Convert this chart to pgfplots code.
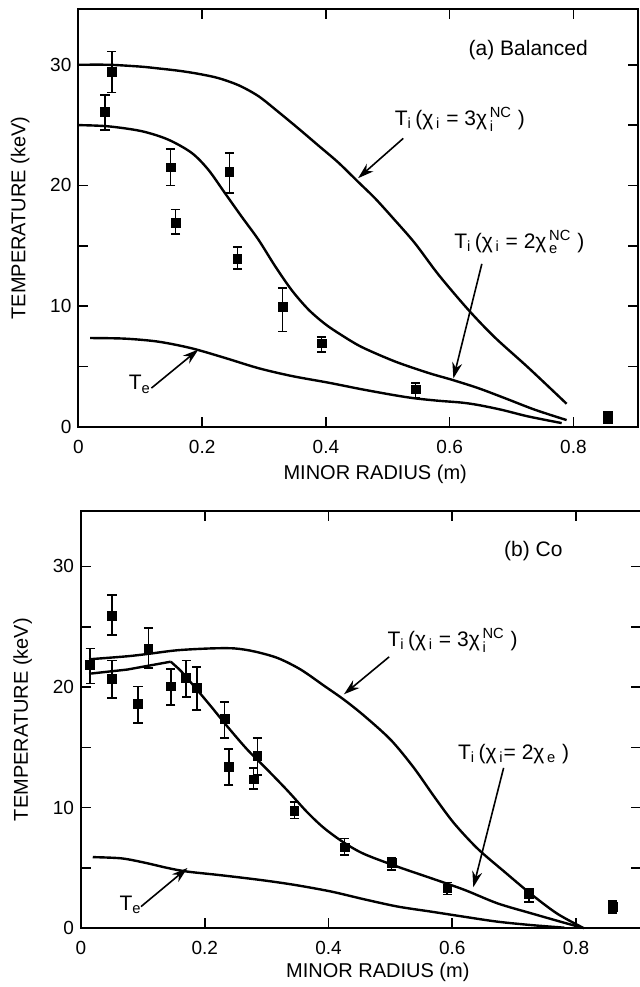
\documentclass[border=0pt]{standalone}
\usepackage{fontspec}
\setmainfont{Liberation Sans}
\usepackage{amsmath}
\usepackage{pgfplots}
\usepackage{pgfplotstable}
\pgfplotsset{compat=1.18}
\usetikzlibrary{arrows.meta}

\newcommand{\lab}{\fontsize{10}{12}\selectfont}
\newcommand{\ann}{\fontsize{10.5}{12}\selectfont}

% measured ion temperatures: x, y, error plus, error minus
\pgfplotstableread{
x     y     ep    em
0.043 26.1  1.4   1.5
0.054 29.4  1.7   1.7
0.149 21.5  1.5   1.5
0.157 16.9  1.1   0.9
0.244 21.1  1.6   1.75
0.257 13.9  1.0   0.85
0.330 9.9   1.6   2.0
0.393 6.9   0.55  0.7
0.545 3.1   0.55  0.75
0.856 0.8   0.45  0.5
}\balanced

\pgfplotstableread{
x     y     ep    em
0.015 21.85 1.35  1.55
0.050 25.9  1.7   1.6
0.050 20.7  1.5   1.6
0.092 18.6  1.45  1.6
0.109 23.15 1.75  1.55
0.145 20.05 1.45  1.55
0.170 20.75 1.45  1.55
0.187 19.9  1.75  1.8
0.232 17.35 1.4   1.55
0.239 13.35 1.5   1.5
0.279 12.35 0.95  0.8
0.285 14.3  1.45  1.6
0.345 9.75  0.7   0.65
0.426 6.7   0.75  0.6
0.502 5.4   0.4   0.55
0.592 3.3   0.5   0.5
0.724 2.85  0.45  0.65
0.859 1.8   0.45  0.55
}\co

\tikzset{pointer/.style={line width=0.8pt, -{Stealth[length=8pt, width=5pt]}}}

\pgfplotsset{
  panel/.style={
    scale only axis, width=280pt, height=208.7pt,
    xmin=0, xmax=0.905, ymin=0, ymax=34.6,
    axis line style={line width=0.9pt},
    xtick={0,0.2,0.4,0.6,0.8},
    xticklabels={0,0.2,0.4,0.6,0.8},
    ytick={0,5,...,30}, yticklabels={0,,10,,20,,30},
    major tick length=5pt, tick style={line width=0.8pt, black},
    tick label style={font=\fontsize{9.5}{11}\selectfont},
    xticklabel style={yshift=-3pt},
    /pgf/number format/assume math mode=true,
    xlabel={MINOR RADIUS (m)}, ylabel={TEMPERATURE (keV)},
    label style={font=\lab},
    every axis y label/.style={at={(axis description cs:-0.104,0.5)}, rotate=90, anchor=center},
    every axis x label/.style={at={(axis description cs:0.53,0)}, yshift=-24pt, anchor=center},
    clip=false,
  },
  model/.style={black, line width=1.2pt, no marks},
  meas/.style={black, only marks, mark=square*, mark size=2.2pt,
    error bars/y dir=both, error bars/y explicit,
    error bars/error bar style={line width=0.85pt, black},
    error bars/error mark options={rotate=90, mark size=2.3pt, line width=0.85pt, black}},
}

\begin{document}
\begin{tikzpicture}
\path[use as bounding box] (0,0) rectangle (319.5pt,493.5pt);

% (a) Balanced
\begin{axis}[panel, at={(39.2pt,280.15pt)}, anchor=south west]
\addplot[model, smooth] coordinates {
(0,30.0) (0.05,30.0) (0.10,29.85) (0.129,29.7) (0.163,29.5) (0.194,29.25)
(0.226,28.9) (0.259,28.3) (0.291,27.4) (0.323,26.1) (0.356,24.7) (0.388,23.3)
(0.42,21.9) (0.452,20.3) (0.48,18.9) (0.51,17.2) (0.544,15.2) (0.582,12.6)
(0.63,9.7) (0.673,7.4) (0.727,4.9) (0.789,1.9)};
\addplot[model, smooth] coordinates {
(0,25.0) (0.048,24.9) (0.102,24.5) (0.145,23.8) (0.183,22.7) (0.21,21.3)
(0.237,19.35) (0.264,17.4) (0.291,15.5) (0.318,13.3) (0.345,11.3) (0.372,9.7)
(0.399,8.5) (0.425,7.6) (0.458,6.6) (0.512,5.4) (0.566,4.45) (0.603,3.9)
(0.646,3.2) (0.69,2.35) (0.738,1.4) (0.789,0.55)};
\addplot[model, smooth] coordinates {
(0.019,7.35) (0.075,7.3) (0.129,7.05) (0.183,6.5) (0.237,5.7) (0.291,4.85)
(0.345,4.2) (0.404,3.65) (0.458,3.1) (0.512,2.6) (0.544,2.35) (0.582,2.15)
(0.619,2.0) (0.646,1.8) (0.684,1.4) (0.727,0.85) (0.781,0.3)};
\addplot[meas] table[x=x, y=y, y error plus=ep, y error minus=em] {\balanced};

\node[font=\ann] at (axis cs:0.727,31.2) {(a) Balanced};
\node[font=\ann, anchor=base west] at (axis cs:0.5,25.0)
  {T$_{\text{i}}$\,(χ$_{\,\text{i}}$ = 3χ$_{\,\text{i}}^{\,\text{NC}}$ )};
\draw[pointer] (axis cs:0.525,23.9) -- (axis cs:0.452,20.6);
\node[font=\ann, anchor=base west] at (axis cs:0.596,14.8)
  {T$_{\text{i}}$\,(χ$_{\,\text{i}}$ = 2χ$_{\,\text{e}}^{\,\text{NC}}$ )};
\draw[pointer] (axis cs:0.652,13.5) -- (axis cs:0.606,4.0);
\node[font=\ann, anchor=base west] at (axis cs:0.07,3.05) {T$_{\text{e}}$};
\draw[pointer] (axis cs:0.118,3.2) -- (axis cs:0.194,6.4);
\end{axis}

% (b) Co
\begin{axis}[panel, at={(40.5pt,29.35pt)}, anchor=south west,
  every axis x label/.append style={yshift=2pt}]
\addplot[model, smooth] coordinates {
(0.013,22.3) (0.075,22.55) (0.109,22.75) (0.156,23.05) (0.21,23.2) (0.248,23.2)
(0.28,22.95) (0.318,22.4) (0.355,21.45) (0.393,20.1) (0.425,18.95) (0.458,17.6)
(0.501,15.6) (0.538,13.3) (0.571,10.9) (0.603,8.7) (0.641,6.6) (0.684,4.7)
(0.727,2.85) (0.77,1.2) (0.813,0)};
% 2 chi_e: straight rise to a corner at r = 0.145, then a smooth fall
\addplot[model] coordinates {
(0.013,21.1) (0.075,21.45) (0.145,22.1)};
\addplot[model, smooth] coordinates {
(0.145,22.1) (0.162,21.3) (0.183,20.05) (0.21,18.4)
(0.237,16.7) (0.269,14.8) (0.302,13.1) (0.334,11.4) (0.366,9.6) (0.393,8.3)
(0.425,7.1) (0.458,6.15) (0.512,5.1) (0.566,4.15) (0.619,3.2) (0.673,2.07)
(0.727,1.25) (0.781,0.46) (0.81,0.05)};
\addplot[model, smooth] coordinates {
(0.019,5.9) (0.065,5.8) (0.102,5.45) (0.14,5.0) (0.172,4.7) (0.226,4.4)
(0.291,4.0) (0.345,3.6) (0.404,3.05) (0.458,2.4) (0.512,1.8) (0.566,1.38)
(0.619,0.96) (0.673,0.55) (0.727,0.27) (0.781,0.05)};
\addplot[meas] table[x=x, y=y, y error plus=ep, y error minus=em] {\co};

\node[font=\ann] at (axis cs:0.731,31.25) {(b) Co};
\node[font=\ann, anchor=base west] at (axis cs:0.484,23.4)
  {T$_{\text{i}}$\,(χ$_{\,\text{i}}$ = 3χ$_{\,\text{i}}^{\,\text{NC}}$ )};
\draw[pointer] (axis cs:0.498,22.5) -- (axis cs:0.425,19.4);
\node[font=\ann, anchor=base west] at (axis cs:0.598,14.0)
  {T$_{\text{i}}$\,(χ$_{\,\text{i}}$= 2χ$_{\,\text{e}}$ )};
\draw[pointer] (axis cs:0.683,13.3) -- (axis cs:0.634,3.4);
\node[font=\ann, anchor=base west] at (axis cs:0.051,1.5) {T$_{\text{e}}$};
\draw[pointer] (axis cs:0.097,1.8) -- (axis cs:0.172,5.0);
\end{axis}
\end{tikzpicture}
\end{document}
